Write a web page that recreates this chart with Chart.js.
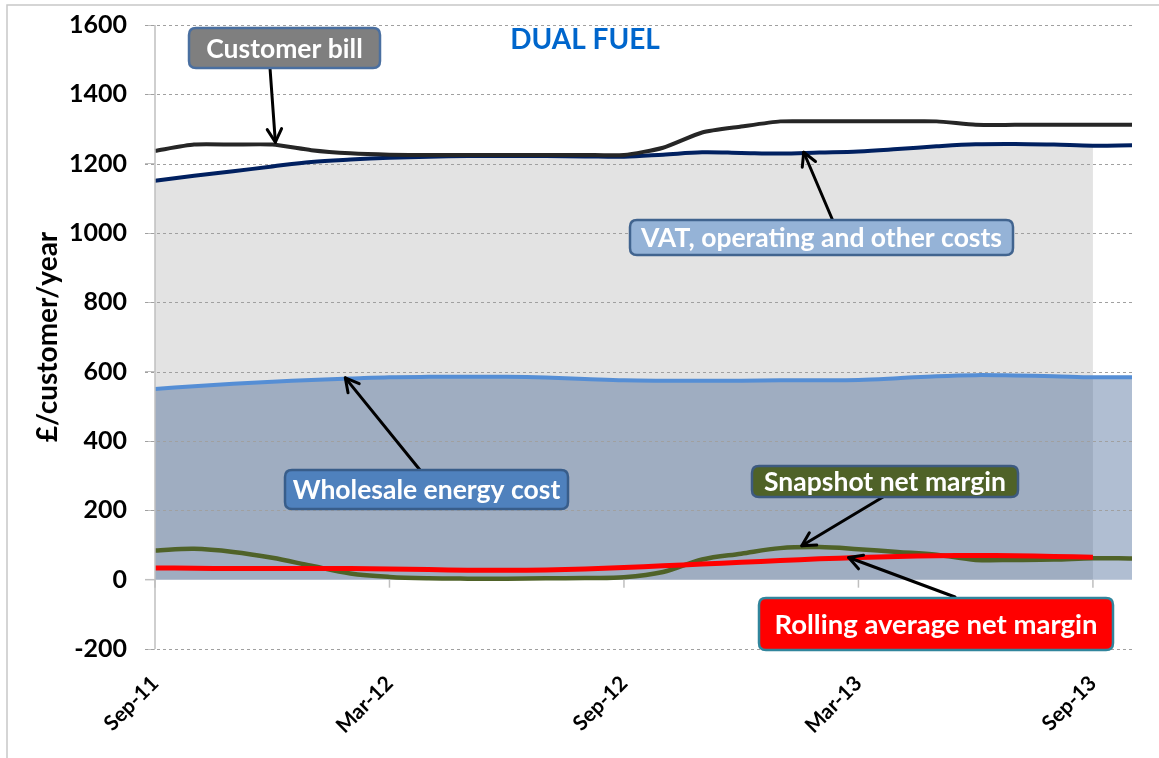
<!DOCTYPE html>
<html><head><meta charset="utf-8">
<script src="https://cdn.jsdelivr.net/npm/chart.js@4.4.1/dist/chart.umd.min.js"></script>
<style>html,body{margin:0;padding:0;background:#fff;}canvas{display:block;}</style>
</head><body>
<canvas id="c" width="1159" height="758"></canvas>
<script>
const months = ['Sep-11','Oct-11','Nov-11','Dec-11','Jan-12','Feb-12','Mar-12','Apr-12','May-12','Jun-12','Jul-12','Aug-12',
  'Sep-12','Oct-12','Nov-12','Dec-12','Jan-13','Feb-13','Mar-13','Apr-13','May-13','Jun-13','Jul-13','Aug-13','Sep-13','Oct-13'];
const tickLabels = ['Sep-11','Mar-12','Sep-12','Mar-13','Sep-13'];
const yTicks = { min: -200, max: 1600, step: 200 };

const customerBill      = [1237,1255,1255,1255,1239,1230,1226,1225,1225,1225,1225,1225,1225,1246,1290,1307,1322,1322,1322,1322,1322,1312,1312,1312,1312,1312];
const vatOperatingOther = [1151,1165,1178,1192,1205,1212,1217,1220,1222,1222,1222,1221,1220,1226,1233,1231,1229,1232,1235,1242,1250,1256,1257,1255,1252,1253];
const wholesaleEnergy   = [550,558,565,571,576,580,584,585,585,585,583,579,575,574,574,574,575,575,576,581,587,590,589,587,584,584];
const snapshotMargin    = [84,89,80,63,40,18,8,4,3,3,4,5,7,22,58,75,91,94,88,80,72,57,57,58,62,61];
const rollingMargin     = [34,33,32,32,32,32,31,29,27,27,28,31,35,40,45,50,55,60,64,67,69,70,69,67,65,null];

const greyEnd = months.indexOf('Sep-13');
const costArea = vatOperatingOther.map((v,i)=> i<=greyEnd ? v : null);

const FONT = 'Lato, "Open Sans", sans-serif';

function roundRect(ctx,x,y,w,h,r){
  ctx.beginPath();
  ctx.moveTo(x+r,y); ctx.lineTo(x+w-r,y); ctx.quadraticCurveTo(x+w,y,x+w,y+r);
  ctx.lineTo(x+w,y+h-r); ctx.quadraticCurveTo(x+w,y+h,x+w-r,y+h);
  ctx.lineTo(x+r,y+h); ctx.quadraticCurveTo(x,y+h,x,y+h-r);
  ctx.lineTo(x,y+r); ctx.quadraticCurveTo(x,y,x+r,y); ctx.closePath();
}
function arrow(ctx,x1,y1,x2,y2){
  ctx.save();
  ctx.strokeStyle='#000'; ctx.lineWidth=3; ctx.lineCap='round'; ctx.lineJoin='round';
  ctx.beginPath(); ctx.moveTo(x1,y1); ctx.lineTo(x2,y2); ctx.stroke();
  const ang=Math.atan2(y2-y1,x2-x1), L=15, s=0.5;
  ctx.beginPath();
  ctx.moveTo(x2-L*Math.cos(ang-s), y2-L*Math.sin(ang-s));
  ctx.lineTo(x2,y2);
  ctx.lineTo(x2-L*Math.cos(ang+s), y2-L*Math.sin(ang+s));
  ctx.stroke();
  ctx.restore();
}
function label(ctx,text,x,y,w,h,fill,border,size){
  ctx.save();
  roundRect(ctx,x,y,w,h,7);
  ctx.fillStyle=fill; ctx.fill();
  ctx.lineWidth=2.5; ctx.strokeStyle=border; ctx.stroke();
  ctx.fillStyle='#fff'; ctx.font='bold '+size+'px '+FONT;
  ctx.textAlign='center'; ctx.textBaseline='middle';
  ctx.fillText(text,x+w/2,y+h/2+1);
  ctx.restore();
}

const overlay = {
  id:'overlay',
  afterDatasetDraw(chart,args){
    if(args.index!==5) return;
    const {ctx,chartArea:a,scales:{y}}=chart;
    ctx.save();
    ctx.strokeStyle='#a0a0a0'; ctx.lineWidth=1; ctx.setLineDash([3,3]);
    y.ticks.forEach(t=>{
      if(t.value===0) return;
      const py=Math.round(y.getPixelForValue(t.value))+0.5;
      ctx.beginPath(); ctx.moveTo(a.left-10,py); ctx.lineTo(a.right,py); ctx.stroke();
    });
    ctx.restore();
  },
  afterDraw(chart){
    const {ctx,chartArea:a,scales:{x,y}}=chart;
    ctx.save();
    ctx.strokeStyle='#bfbfbf'; ctx.lineWidth=1.5;
    ctx.beginPath(); ctx.moveTo(a.left,a.top); ctx.lineTo(a.left,a.bottom); ctx.stroke();
    const y0=y.getPixelForValue(0);
    ctx.beginPath(); ctx.moveTo(a.left-10,y0); ctx.lineTo(a.left,y0); ctx.stroke();
    months.forEach((m,i)=>{
      if(!tickLabels.includes(m)) return;
      const px=x.getPixelForValue(i);
      ctx.beginPath(); ctx.moveTo(px,y0); ctx.lineTo(px,y0+8); ctx.stroke();
    });
    ctx.strokeStyle='#c8c8c8'; ctx.lineWidth=1.5;
    ctx.beginPath(); ctx.moveTo(7,760); ctx.lineTo(7,5); ctx.lineTo(1160,5); ctx.stroke();
    ctx.fillStyle='#0066cc'; ctx.font='bold 28px '+FONT; ctx.textAlign='center'; ctx.textBaseline='middle';
    ctx.fillText('DUAL FUEL',585,40);
    ctx.restore();

    const P=(i,v)=>[x.getPixelForValue(i),y.getPixelForValue(v)];
    let t=P(3.08,1262); arrow(ctx,270,68,t[0],t[1]);
    label(ctx,'Customer bill',189,28,191,40,'#7f7f7f','#4a6fa0',26.5);
    t=P(16.6,1233); arrow(ctx,833,221,t[0],t[1]);
    label(ctx,'VAT, operating and other costs',630,220,383,35,'#95b3d7','#41648f',26.5);
    t=P(4.87,582); arrow(ctx,420,470,t[0],t[1]);
    label(ctx,'Wholesale energy cost',285,470,283,39,'#4f81bd','#385d8a',26.5);
    t=P(16.55,98); arrow(ctx,883,497,t[0],t[1]);
    label(ctx,'Snapshot net margin',752,466,266,31,'#4f6228','#3d5a80',26.5);
    t=P(17.75,64); arrow(ctx,955,597,t[0],t[1]);
    label(ctx,'Rolling average net margin',759,598,354,52,'#ff0000','#31859c',27.5);
  }
};

new Chart(document.getElementById('c'),{
  type:'line',
  data:{
    labels:months,
    datasets:[
      {label:'Customer bill',data:customerBill,borderColor:'#262626',borderWidth:4,pointRadius:0,tension:0.2,fill:false},
      {label:'VAT, operating and other costs',data:vatOperatingOther,borderColor:'#002060',borderWidth:4,pointRadius:0,tension:0.35,fill:false},
      {label:'Wholesale energy cost',data:wholesaleEnergy,borderColor:'#558ed5',borderWidth:4,pointRadius:0,tension:0.35,fill:false},
      {label:'Rolling average net margin',data:rollingMargin,borderColor:'#ff0000',borderWidth:5,pointRadius:0,tension:0.35,fill:false},
      {label:'Snapshot net margin',data:snapshotMargin,borderColor:'#4f6228',borderWidth:4.5,pointRadius:0,tension:0.35,fill:false},
      {label:'Wholesale area',data:wholesaleEnergy,borderWidth:0,borderColor:'rgba(0,0,0,0)',backgroundColor:'rgba(51,87,138,0.39)',pointRadius:0,tension:0.35,fill:'origin'},
      {label:'Cost area',data:costArea,borderWidth:0,borderColor:'rgba(0,0,0,0)',backgroundColor:'#e3e3e3',pointRadius:0,tension:0.35,fill:'origin'}
    ]
  },
  options:{
    responsive:false,
    animation:false,
    layout:{padding:{left:0,top:25,right:27,bottom:0}},
    plugins:{legend:{display:false},tooltip:{enabled:false},title:{display:false}},
    scales:{
      x:{
        type:'category',
        grid:{display:false,drawTicks:false},
        border:{display:false},
        ticks:{autoSkip:false,maxRotation:45,minRotation:45,padding:22,color:'#000',
          font:{family:FONT,weight:'bold',size:21},
          callback:(v,i)=> tickLabels.includes(months[i]) ? months[i] : ''},
        afterFit:s=>{s.height=758-649; s.paddingLeft=0; s.paddingRight=0;}
      },
      y:{
        min:yTicks.min,max:yTicks.max,
        ticks:{stepSize:yTicks.step,color:'#000',padding:18,font:{family:FONT,weight:'bold',size:25},
          callback:v=>String(v)},
        grid:{display:true,drawOnChartArea:false,drawTicks:true,tickLength:10,color:'#bfbfbf'},
        border:{display:false},
        title:{display:true,text:'£/customer/year',color:'#000',font:{family:FONT,weight:'bold',size:28},padding:{top:31,bottom:0}},
        afterFit:s=>{s.width=155; s.paddingTop=0; s.paddingBottom=0;}
      }
    }
  },
  plugins:[overlay]
});
</script>
</body></html>
